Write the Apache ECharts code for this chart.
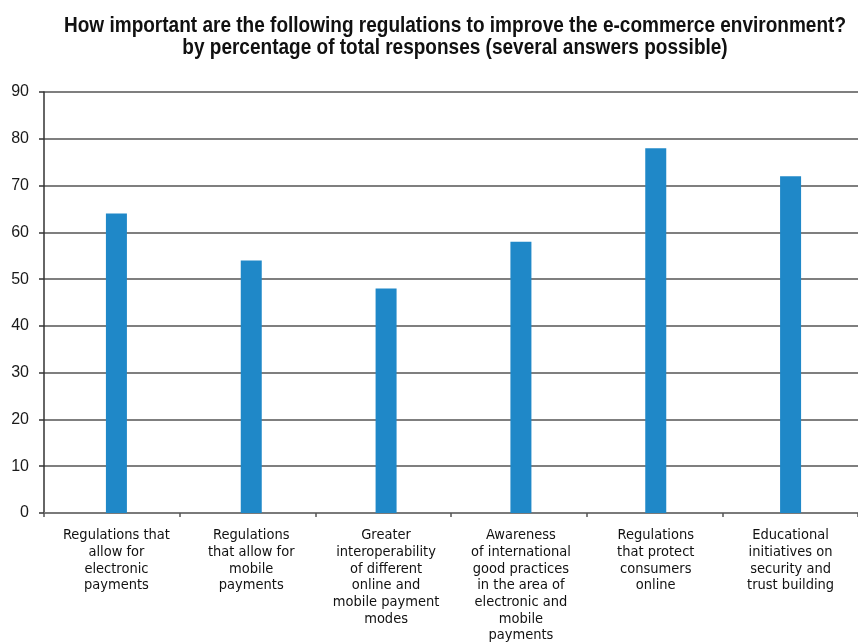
<!DOCTYPE html>
<html>
<head>
<meta charset="utf-8">
<script src="https://cdn.jsdelivr.net/npm/echarts@6/dist/echarts.min.js"></script>
<style>
  html, body { margin: 0; padding: 0; background: #ffffff; }
  #chart { width: 858px; height: 644px; }
</style>
</head>
<body>
<div id="chart"></div>
<script>
// Chart text and values
const titleLines = [
  'How important are the following regulations to improve the e-commerce environment?',
  'by percentage of total responses (several answers possible)'
];
const categories = [
  'Regulations that\nallow for\nelectronic\npayments',
  'Regulations\nthat allow for\nmobile\npayments',
  'Greater\ninteroperability\nof different\nonline and\nmobile payment\nmodes',
  'Awareness\nof international\ngood practices\nin the area of\nelectronic and\nmobile\npayments',
  'Regulations\nthat protect\nconsumers\nonline',
  'Educational\ninitiatives on\nsecurity and\ntrust building'
];
const shares = [64, 54, 48, 58, 78, 72];
const yMin = 0;
const yMax = 90;
const yStep = 10;

const condensed = '"DejaVu Sans Condensed", "Liberation Sans Narrow", sans-serif';
const regular = '"Liberation Sans", Arial, sans-serif';

// Title is set in a bold sans, squeezed horizontally to a condensed look
const titleFont = 'bold 22px "Liberation Sans"';
const titleWidth = 782;
const measureCtx = document.createElement('canvas').getContext('2d');
measureCtx.font = titleFont;
const titleScale = titleWidth / measureCtx.measureText(titleLines[0]).width;

const chart = echarts.init(document.getElementById('chart'), null, { renderer: 'canvas' });

chart.setOption({
  animation: false,
  backgroundColor: '#ffffff',
  graphic: [
    {
      type: 'text',
      x: 455,
      y: 14.5,
      scaleX: titleScale,
      style: {
        text: titleLines.join('\n'),
        fontFamily: '"Liberation Sans", Arial, sans-serif',
        fontWeight: 'bold',
        fontSize: 22,
        lineHeight: 22,
        align: 'center',
        verticalAlign: 'top',
        fill: '#111111'
      }
    }
  ],
  grid: [
    // frame grid: value axis, gridlines and category ticks
    { left: 44, width: 820, top: 92, height: 421 },
    // bar grid: bars and category labels
    { left: 49, width: 824, top: 92, height: 421 }
  ],
  xAxis: [
    {
      gridIndex: 0,
      type: 'category',
      data: categories,
      boundaryGap: true,
      axisLine: { show: true, lineStyle: { color: '#7a7a7a', width: 2 } },
      axisTick: { show: true, length: 4, lineStyle: { color: '#555555', width: 1.5 } },
      axisLabel: { show: false },
      splitLine: { show: false }
    },
    {
      gridIndex: 1,
      type: 'category',
      data: categories,
      boundaryGap: true,
      axisLine: { show: false },
      axisTick: { show: false },
      axisLabel: {
        interval: 0,
        margin: 14,
        fontFamily: condensed,
        fontSize: 14.5,
        lineHeight: 16.7,
        color: '#111111',
        align: 'center'
      },
      splitLine: { show: false }
    }
  ],
  yAxis: [
    {
      gridIndex: 0,
      type: 'value',
      min: yMin,
      max: yMax,
      interval: yStep,
      axisLine: { show: true, lineStyle: { color: '#333333', width: 1.5 } },
      axisTick: { show: true, length: 5, lineStyle: { color: '#333333', width: 1.5 } },
      axisLabel: {
        margin: 15,
        fontFamily: regular,
        fontSize: 16,
        color: '#1a1a1a'
      },
      splitLine: { show: true, lineStyle: { color: '#555555', width: 1.5 } }
    },
    {
      gridIndex: 1,
      type: 'value',
      min: yMin,
      max: yMax,
      interval: yStep,
      show: false
    }
  ],
  series: [
    {
      type: 'bar',
      xAxisIndex: 1,
      yAxisIndex: 1,
      data: shares,
      barWidth: 21,
      itemStyle: { color: '#1f88c8' },
      z: 3
    }
  ]
});
</script>
</body>
</html>
